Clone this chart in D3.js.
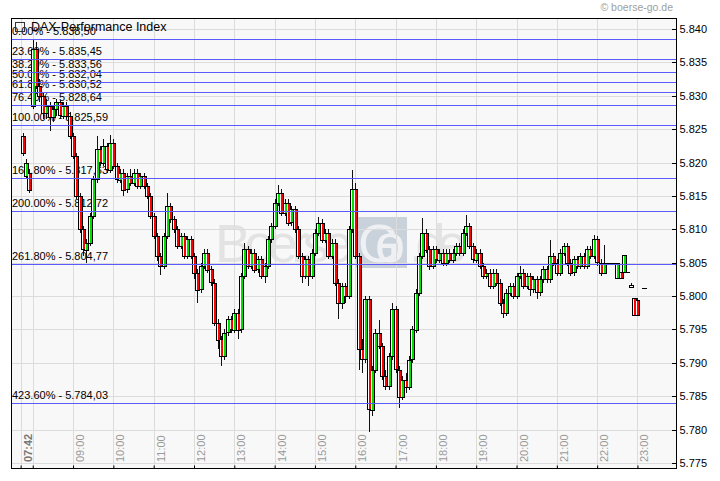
<!DOCTYPE html>
<html>
<head>
<meta charset="utf-8">
<script src="https://cdnjs.cloudflare.com/ajax/libs/d3/7.8.5/d3.min.js"></script>
<style>
  body { margin: 0; background: #fff; }
  svg { display: block; font-family: "Liberation Sans", Arial, sans-serif; }
</style>
</head>
<body>
<svg id="chart" width="720" height="481"></svg>
<script>
// Titel und Zeitachse
const title = "DAX-Performance Index";
const firstTick = "07:42";
const hourTicks = ["08:00","09:00","10:00","11:00","12:00","13:00","14:00","15:00",
                   "16:00","17:00","18:00","19:00","20:00","21:00","22:00","23:00"];
const hiddenLabels = ["08:00"];  // von 07:42 verdeckt, im Original ohne Text
const firstCandle = "07:45";   // 5-Minuten-Kerzen ab hier
const yTicks = [5775, 5780, 5785, 5790, 5795, 5800, 5805, 5810, 5815, 5820, 5825, 5830, 5835, 5840];

// Fibonacci-Retracements
const fibPercents = [0, 23.6, 38.2, 50, 61.8, 76.4, 100, 161.8, 200, 261.8, 423.6];
const fibValues = [5838.50, 5835.45, 5833.56, 5832.04, 5830.52, 5828.64, 5825.59, 5817.63, 5812.72, 5804.77, 5784.03];

// OHLC (eine Zeile = eine Stunde)
const opens = [
  5824,5818,5818.5,
  5828.5,5837,5831.5,5830,5827.5,5828.5,5826.8,5828,5829,5827,5828.5,5827,
  5824,5821,5815,5810,5807,5808,5812,5817.5,5822,5820,5822.5,5819,
  5823,5819.5,5817.5,5818.5,5816,5818,5817,5818.5,5816.5,5818,5816.5,5815,
  5812,5809,5806,5804.5,5809,5813.5,5811.5,5810,5807.5,5809,5806,5808.5,
  5806,5803.5,5801,5804.5,5806.5,5804,5802,5796,5793.5,5791,5794.5,5796.5,
  5795,5797.5,5795,5803,5807,5804.5,5806.5,5804,5805.5,5803,5804.5,5808.5,
  5810.5,5814,5815.5,5812.5,5814,5811,5813,5810,5806,5803,5805.5,5803,
  5806.5,5809.5,5811,5808.5,5809.5,5806,5808,5802,5799,5801.5,5800,5810,
  5816,5806,5792,5790.5,5799.5,5783,5789,5794.5,5792.5,5788,5786.5,5791,
  5798,5789,5785,5787.5,5786.5,5790.5,5795,5800.5,5806,5809.5,5807,5804.5,
  5807,5805.5,5806.5,5805,5806.5,5805.5,5806.5,5807.5,5806.5,5809.5,5810.5,5807.5,
  5805.5,5806.5,5804.5,5803,5803.5,5801.5,5803.5,5802,5799,5797.5,5800.5,5801.5,
  5800,5803,5803.5,5801.5,5803,5801,5802.5,5800.5,5802.5,5804,5802.5,5806,
  5805,5803.5,5806.5,5807.5,5805,5803.5,5805.5,5804.5,5806,5804.5,5807,5806,
  5808.5,5805,5803.5,5805,5805,5805,5802.7,5803.6,5803.6,5803.6,5801.7,5799.7,
  5799.4,null,5801.2
];
const highs = [
  5824.5,5820.5,5819,
  5838.5,5838,5832.5,5830.5,5829.5,5829,5828.5,5829.5,5829.3,5829,5829,5827.5,
  5824.5,5821.5,5815.5,5810.5,5808.5,5812.5,5818,5824,5822.5,5823.5,5823,5824.2,
  5823.5,5820,5819,5819,5818.5,5819,5819,5819,5818.5,5818.5,5817,5815.5,
  5812.5,5809.5,5806.5,5809.5,5815.4,5814,5812,5810.5,5809.5,5809.5,5809,5809,
  5806.5,5804,5805,5807,5807,5804.5,5802.5,5796.5,5794,5795,5797,5797,
  5798,5798,5803.5,5808,5807.5,5807,5807,5806,5806,5805,5809,5811,
  5814.5,5816.6,5816,5814.5,5814.5,5813.5,5813.5,5810.5,5806.5,5806,5806,5807,
  5810,5811.8,5811.5,5810,5810,5808.5,5808.5,5802.5,5802,5802,5810.5,5818.9,
  5817,5806.5,5793.5,5800,5800,5789.5,5795,5796.4,5793,5789,5791.5,5799,
  5798.5,5789.5,5788,5788.5,5791,5795.5,5801,5806.5,5811.7,5810,5807.5,5807.5,
  5807.5,5807,5807,5807,5807,5807,5808,5808,5810,5812.1,5811,5808,
  5807,5807,5805,5804,5804,5804,5804,5802.5,5799.5,5801,5802,5802,
  5803.5,5804.5,5804,5803.5,5803.5,5803,5803,5803,5804.5,5804.5,5808.4,5806.5,
  5805.5,5807,5808,5808,5805.5,5806,5806,5806.5,5806.5,5807.5,5807.5,5809.2,
  5809,5805.5,5807.6,5805,5805,5805,5805,5803.6,5806.2,5803.6,5802,5799.7,
  5799.7,null,5801.2
];
const lows = [
  5821,5817.5,5815.5,
  5828,5831,5829,5826.5,5826.5,5824.7,5826,5827,5826.5,5826.5,5826.5,5823.5,
  5820.5,5814.5,5809.5,5806,5805,5807.5,5811.5,5817,5819.5,5819.5,5818.5,5818.5,
  5819,5817,5817,5815,5815.5,5816.5,5816.5,5816,5816,5816,5814.5,5811.5,
  5808.5,5805.2,5803.2,5804,5808.5,5811,5809.5,5807,5807,5805.5,5805.5,5805.5,
  5802.5,5799,5800.5,5804,5803.5,5801.5,5795.5,5792,5789.5,5790.5,5794,5794.5,
  5794.5,5793.5,5794.5,5802.5,5804,5804,5803.5,5803.5,5802.5,5802,5804,5808,
  5810,5813.5,5812,5812,5810.5,5810.5,5809.5,5805.5,5802,5802.5,5801.5,5802.5,
  5806,5809,5808,5808,5805.5,5805.5,5801.5,5796.5,5798,5799,5799.5,5809.5,
  5805.5,5789,5788.5,5790,5779.6,5782,5788.5,5792,5787.5,5785.9,5786,5790.5,
  5788.5,5783.2,5784.5,5785.5,5786,5790,5794.5,5800,5805.5,5806.5,5803.9,5804,
  5805,5805,5804.5,5804.5,5805,5805,5806,5806,5806,5809,5807,5805,
  5805,5804,5802.5,5802.5,5801,5801,5801.5,5798.5,5796.7,5797,5800,5799.5,
  5799.5,5802.5,5801,5801,5800,5800.5,5799.5,5800,5802,5802,5802,5804.5,
  5803,5803,5806,5804.5,5803,5803,5804,5804,5804,5804,5805.5,5805.5,
  5804.5,5803,5803.5,5805,5805,5805,5802.7,5802.7,5803.6,5803.6,5801.4,5797,
  5797,null,5801.2
];
const closes = [
  5821.5,5820,5816,
  5837,5831.5,5830,5827.5,5828.5,5826.8,5828,5829,5827,5828.5,5827,5824,
  5821,5815,5810,5807,5808,5812,5817.5,5822,5820,5822.5,5819,5823,
  5819.5,5817.5,5818.5,5816,5818,5817,5818.5,5816.5,5818,5816.5,5815,5812,
  5809,5806,5804.5,5809,5813.5,5811.5,5810,5807.5,5809,5806,5808.5,5806,
  5803.5,5801,5804.5,5806.5,5804,5802,5796,5793.5,5791,5794.5,5796.5,5795,
  5797.5,5795,5803,5807,5804.5,5806.5,5804,5805.5,5803,5804.5,5808.5,5810.5,
  5814,5815.5,5812.5,5814,5811,5813,5810,5806,5803,5805.5,5803,5806.5,
  5809.5,5811,5808.5,5809.5,5806,5808,5802,5799,5801.5,5800,5810,5816,
  5806,5792,5790.5,5799.5,5783,5789,5794.5,5792.5,5788,5786.5,5791,5798,
  5789,5785,5787.5,5786.5,5790.5,5795,5800.5,5806,5809.5,5807,5804.5,5807,
  5805.5,5806.5,5805,5806.5,5805.5,5806.5,5807.5,5806.5,5809.5,5810.5,5807.5,5805.5,
  5806.5,5804.5,5803,5803.5,5801.5,5803.5,5802,5799,5797.5,5800.5,5801.5,5800,
  5803,5803.5,5801.5,5803,5801,5802.5,5800.5,5802.5,5804,5802.5,5806,5805,
  5803.5,5806.5,5807.5,5805,5803.5,5805.5,5804.5,5806,5804.5,5807,5806,5808.5,
  5805,5803.5,5805,5805,5805,5805,5805,5802.7,5806.2,5803.6,5801.4,5797.2,
  5797.2,null,5801.2
];

const svg = d3.select("#chart");
const plot = { left: 11, top: 18, right: 676, bottom: 468 };

const parseHM = d3.timeParse("%H:%M");
const parseHMS = d3.timeParse("%H:%M:%S");

const x = d3.scaleTime()
  .domain([parseHMS("07:27:40"), parseHMS("23:57:20")])
  .range([plot.left, plot.right]);
const y = d3.scaleLinear()
  .domain([5774.25, 5841.65])
  .range([plot.bottom, plot.top]);

const de = d3.formatLocale({ decimal: ",", thousands: ".", grouping: [3], currency: ["", "€"] });
const fmtTick = de.format(",d");
const fmtPrice = de.format(",.2f");
const py = v => Math.round(y(v)) + 0.5;   // scharfe 1px-Linien

// Kerzen aus den Arrays
const t0 = parseHM(firstCandle);
const candles = closes.map((c, i) => ({
  t: d3.timeMinute.offset(t0, i * 5),
  o: opens[i], h: highs[i], l: lows[i], c: c
})).filter(d => d.c !== null);

// Hintergrund
svg.append("rect")
  .attr("x", plot.left).attr("y", plot.top)
  .attr("width", plot.right - plot.left).attr("height", plot.bottom - plot.top)
  .attr("fill", "#f8f8f8");

svg.append("defs").append("clipPath").attr("id", "clip")
  .append("rect")
  .attr("x", plot.left).attr("y", plot.top)
  .attr("width", plot.right - plot.left).attr("height", plot.bottom - plot.top);

// Wasserzeichen
const wm = svg.append("g").attr("class", "watermark");
wm.append("rect").attr("x", 355).attr("y", 217).attr("width", 52).attr("height", 51).attr("fill", "#c9d2db");
wm.append("text").attr("x", 353).attr("y", 262).attr("text-anchor", "end")
  .attr("font-size", 54).attr("fill", "#e3e3e3").attr("textLength", 138).text("Boerse");
wm.append("text").attr("x", 358).attr("y", 262)
  .attr("font-size", 54).attr("fill", "#eef0f3").attr("textLength", 47).text("Go");
wm.append("text").attr("x", 409).attr("y", 262)
  .attr("font-size", 54).attr("fill", "#e3e3e3").attr("textLength", 58).text(".de");

// Gitter
const grid = svg.append("g").attr("stroke", "#dcdcdc").attr("stroke-width", 1)
  .attr("shape-rendering", "crispEdges");
grid.selectAll(".hg").data(yTicks).join("line")
  .attr("x1", plot.left).attr("x2", plot.right)
  .attr("y1", py).attr("y2", py);
const vTimes = [firstTick].concat(hourTicks).map(parseHM);
grid.selectAll(".vg").data(vTimes).join("line")
  .attr("y1", plot.top).attr("y2", plot.bottom)
  .attr("x1", d => Math.round(x(d)) + 0.5).attr("x2", d => Math.round(x(d)) + 0.5);

// Fibonacci-Beschriftung (unter den Kerzen)
svg.append("g").selectAll("text").data(fibPercents).join("text")
  .attr("x", 12).attr("y", (d, i) => Math.round(y(fibValues[i])) - 4)
  .attr("font-size", 11).attr("fill", "#000")
  .text((d, i) => d.toFixed(2) + "% - " + fmtPrice(fibValues[i]));

// Zeitbeschriftung
const xl = svg.append("g").attr("font-size", 11);
xl.selectAll("text").data(hourTicks.filter(d => !hiddenLabels.includes(d))).join("text")
  .attr("transform", d => `translate(${Math.round(x(parseHM(d))) + 11},462) rotate(-90)`)
  .attr("fill", "#9a9a9a").text(d => d);
xl.append("text")
  .attr("transform", `translate(${Math.round(x(parseHM(firstTick))) + 11},462) rotate(-90)`)
  .attr("fill", "#777").attr("font-weight", "bold").text(firstTick);

// Kerzen: Docht, weisser Körper mit schwarzem Rand und farbigem Kern
const cg = svg.append("g").attr("clip-path", "url(#clip)").attr("shape-rendering", "crispEdges");
const cx = d => Math.round(x(d.t));
cg.selectAll(".wick").data(candles.filter(d => d.h > d.l)).join("line")
  .attr("x1", d => cx(d) + 0.5).attr("x2", d => cx(d) + 0.5)
  .attr("y1", d => y(d.h)).attr("y2", d => y(d.l))
  .attr("stroke", "#111");
const bodies = candles.filter(d => Math.abs(y(d.o) - y(d.c)) >= 1);
const bTop = d => Math.round(y(Math.max(d.o, d.c)));
const bH = d => Math.max(1, Math.round(Math.abs(y(d.o) - y(d.c))));
cg.selectAll(".body").data(bodies).join("rect")
  .attr("x", d => cx(d) - 1.5)
  .attr("width", 4)
  .attr("y", d => bTop(d) + 0.5)
  .attr("height", bH)
  .attr("fill", "#fff")
  .attr("stroke", "#000").attr("stroke-width", 1);
cg.selectAll(".core").data(bodies.filter(d => bH(d) > 2)).join("rect")
  .attr("x", d => cx(d))
  .attr("width", 2)
  .attr("y", d => bTop(d) + 1)
  .attr("height", d => bH(d) - 1)
  .attr("fill", d => d.c >= d.o ? "#00e000" : "#ff0000");
cg.selectAll(".flat").data(candles.filter(d => Math.abs(y(d.o) - y(d.c)) < 1)).join("line")
  .attr("x1", d => cx(d) - 2).attr("x2", d => cx(d) + 3)
  .attr("y1", d => py(d.c)).attr("y2", d => py(d.c))
  .attr("stroke", "#000");

// Fibonacci-Linien
svg.append("g").attr("shape-rendering", "crispEdges")
  .selectAll("line").data(fibValues).join("line")
  .attr("x1", plot.left).attr("x2", plot.right)
  .attr("y1", py).attr("y2", py)
  .attr("stroke", "#5a5aff").attr("stroke-width", 1);

// Rahmen und Achsen
svg.append("rect")
  .attr("x", plot.left + 0.5).attr("y", plot.top + 0.5)
  .attr("width", plot.right - plot.left).attr("height", plot.bottom - plot.top)
  .attr("fill", "none").attr("stroke", "#000").attr("shape-rendering", "crispEdges");

const yAxis = svg.append("g")
  .attr("transform", `translate(${plot.right + 0.5},0)`)
  .call(d3.axisRight(y).tickValues(yTicks).tickFormat(fmtTick).tickSize(0).tickPadding(3));
yAxis.select(".domain").remove();
yAxis.selectAll("text").attr("font-size", 11).attr("font-family", "Liberation Sans, Arial, sans-serif").attr("fill", "#000");
svg.append("g").attr("shape-rendering", "crispEdges").selectAll("line").data(yTicks).join("line")
  .attr("x1", plot.right - 4).attr("x2", plot.right + 1)
  .attr("y1", py).attr("y2", py)
  .attr("stroke", "#000");

const xAxis = svg.append("g")
  .attr("transform", `translate(0,${plot.bottom + 0.5})`)
  .call(d3.axisTop(x).tickValues(vTimes).tickSize(3).tickFormat(""));
xAxis.select(".domain").remove();

// Titel
svg.append("rect").attr("x", 15.5).attr("y", 22.5).attr("width", 9).attr("height", 9)
  .attr("fill", "none").attr("stroke", "#333");
svg.append("text").attr("x", 31).attr("y", 31).attr("font-size", 12.5).attr("fill", "#000").text(title);

svg.append("text").attr("x", 673).attr("y", 11).attr("text-anchor", "end")
  .attr("font-size", 10.5).attr("fill", "#a0a0a0").text("\u00a9 boerse-go.de");
</script>
</body>
</html>
